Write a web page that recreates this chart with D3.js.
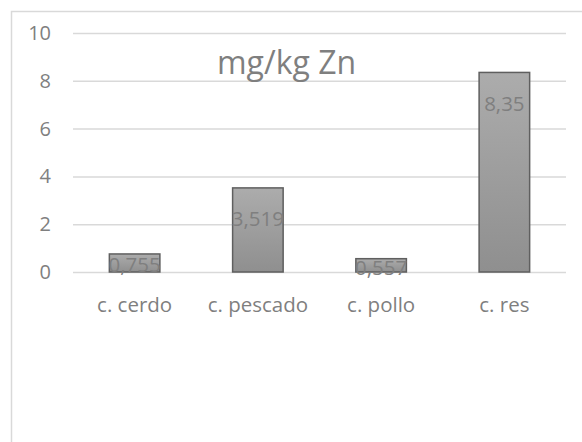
<!DOCTYPE html>
<html>
<head>
<meta charset="utf-8">
<script src="https://cdn.jsdelivr.net/npm/d3@7"></script>
<style>
  body { margin: 0; background: #fff; }
  text { font-family: "Open Sans", sans-serif; }
</style>
</head>
<body>
<svg width="582" height="442" id="mainsvg"></svg>
<script>
  const categories = ['c. cerdo', 'c. pescado', 'c. pollo', 'c. res'];
  const values = [0.755, 3.519, 0.557, 8.35];
  const valueLabels = ['0,755', '3,519', '0,557', '8,35'];
  const yTicks = [0, 2, 4, 6, 8, 10];
  const title = 'mg/kg Zn';

  const svg = d3.select('#mainsvg');
  const margin = { top: 33, right: 16, bottom: 170, left: 73 };
  const innerWidth = 582 - margin.left - margin.right;
  const innerHeight = 442 - margin.top - margin.bottom;

  // chart frame (only top and left edges are visible in the picture)
  svg.append('rect')
    .attr('x', 11.5).attr('y', 11.5)
    .attr('width', 640).attr('height', 500)
    .attr('fill', 'none').attr('stroke', '#d9d9d9').attr('stroke-width', 1.5);

  const defs = svg.append('defs');
  const grad = defs.append('linearGradient').attr('id', 'barGrad')
    .attr('x1', 0).attr('y1', 0).attr('x2', 0).attr('y2', 1);
  grad.append('stop').attr('offset', '0%').attr('stop-color', '#acacac');
  grad.append('stop').attr('offset', '100%').attr('stop-color', '#8f8f8f');

  const g = svg.append('g').attr('transform', `translate(${margin.left}, ${margin.top})`);

  const xScale = d3.scaleBand().domain(categories).range([0, innerWidth])
    .paddingInner(0.59).paddingOuter(0.295);
  const yScale = d3.scaleLinear().domain([0, 10]).range([innerHeight, 0]);

  const yAxis = d3.axisLeft(yScale).tickValues(yTicks)
    .tickSize(-innerWidth).tickPadding(22);
  const yAxisGroup = g.append('g').call(yAxis);
  yAxisGroup.select('.domain').remove();
  yAxisGroup.selectAll('line').attr('stroke', '#d9d9d9').attr('stroke-width', 1.5);
  yAxisGroup.selectAll('text')
    .attr('fill', '#7f7f7f').attr('font-size', '20px')
    .style('font-family', '"Open Sans", sans-serif');

  const xAxis = d3.axisBottom(xScale).tickSize(0).tickPadding(25);
  const xAxisGroup = g.append('g').attr('transform', `translate(0, ${innerHeight})`).call(xAxis);
  xAxisGroup.select('.domain').remove();
  xAxisGroup.selectAll('text')
    .attr('fill', '#7f7f7f').attr('font-size', '20.5px')
    .style('font-family', '"Open Sans", sans-serif');

  g.selectAll('.bar').data(values).join('rect')
    .attr('class', 'bar')
    .attr('x', (d, i) => xScale(categories[i]))
    .attr('y', d => yScale(d))
    .attr('width', xScale.bandwidth())
    .attr('height', d => yScale(0) - yScale(d))
    .attr('fill', 'url(#barGrad)')
    .attr('stroke', '#5f5f5f').attr('stroke-width', 1.5);

  g.selectAll('.lbl').data(values).join('text')
    .attr('class', 'lbl')
    .attr('x', (d, i) => xScale(categories[i]) + xScale.bandwidth() / 2)
    .attr('y', d => Math.min(yScale(d) + 31, (yScale(d) + yScale(0)) / 2 + 2))
    .attr('dy', '0.35em')
    .attr('text-anchor', 'middle')
    .attr('fill', '#7f7f7f').attr('font-size', '20.5px')
    .text((d, i) => valueLabels[i]);

  svg.append('text')
    .attr('x', 286.5).attr('y', 74)
    .attr('text-anchor', 'middle')
    .attr('fill', '#7f7f7f').attr('font-size', '32px')
    .text(title);
</script>
</body>
</html>
